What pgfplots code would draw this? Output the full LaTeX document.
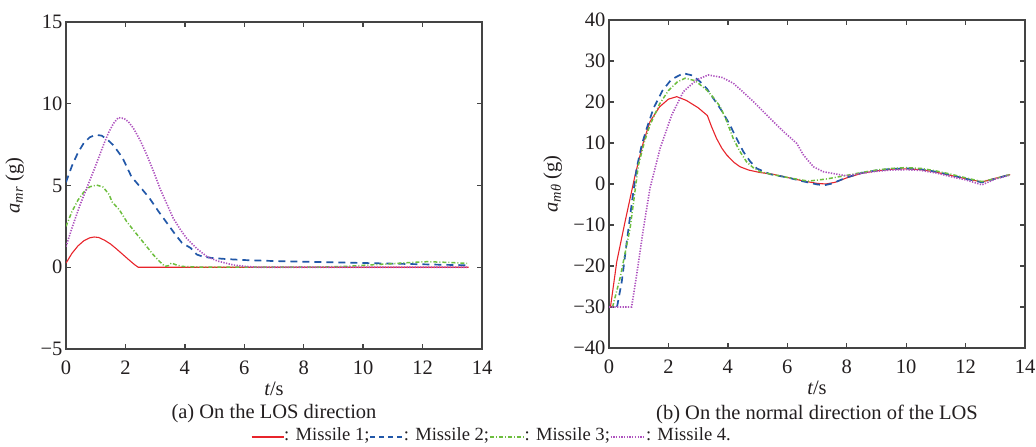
\documentclass[border=0pt]{standalone}
\usepackage{pgfplots}
\pgfplotsset{compat=1.18}
\usepackage{fontspec}
\setmainfont{Liberation Serif}
\definecolor{m1red}{HTML}{E8242B}
\definecolor{m2blue}{HTML}{2157A8}
\definecolor{m3green}{HTML}{6DBE3E}
\definecolor{m4purple}{HTML}{AE52BE}
\definecolor{axgray}{HTML}{444444}
\definecolor{txt}{HTML}{231F20}

\tikzset{
  m1/.style={m1red, line width=1.1pt},
  m2/.style={m2blue, line width=1.7pt, dash pattern=on 7pt off 5pt},
  m3/.style={m3green, line width=1.5pt, dash pattern=on 4pt off 2pt on 1pt off 2pt},
  m4/.style={m4purple, line width=1.6pt, dash pattern=on 1.3pt off 1.4pt},
}
\pgfplotsset{
  panel/.style={
    scale only axis,
    width=416pt, height=327pt,
    anchor=south west,
    xmin=0, xmax=14, xtick={0,2,...,14},
    xticklabels={\textrm{0},\textrm{2},\textrm{4},\textrm{6},\textrm{8},\textrm{10},\textrm{12},\textrm{14}},
    xtick pos=both, ytick pos=both,
    tick align=inside,
    major tick length=5pt,
    axis line style={draw=axgray, line width=1.3pt},
    every tick/.style={draw=axgray, line width=1.3pt},
    tick label style={font=\fontsize{20.5}{21}\selectfont, text=txt},
    xticklabel style={yshift=-8pt},
    label style={font=\fontsize{20.5}{21}\selectfont, text=txt},
    /pgf/number format/assume math mode=true,
    xlabel={\itshape t\upshape/s},
    xlabel style={at={(axis description cs:0.5,0)}, anchor=center, yshift=-40pt},
  },
}

\begin{document}
\begin{tikzpicture}[x=1pt,y=1pt]
\useasboundingbox (0,0) rectangle (1036,447);

% (a) along the LOS
\begin{axis}[panel, at={(66pt,98pt)},
  ymin=-5, ymax=15, ytick={-5,0,5,10,15},
  yticklabels={\textrm{−5},\textrm{0},\textrm{5},\textrm{10},\textrm{15}},
  ylabel={{\itshape a}\textsubscript{\itshape mr} (g)},
  ylabel style={at={(axis description cs:-0.123,0.5)}, anchor=center}]
\addplot[m1] coordinates {(0,0.25) (0.2,0.85) (0.4,1.3) (0.6,1.62) (0.8,1.8) (0.95,1.85) (1.1,1.82) (1.3,1.65) (1.5,1.42) (1.7,1.12) (1.9,0.8) (2.1,0.48) (2.3,0.17) (2.43,0) (13.55,0)};
\addplot[m2] coordinates {(0,5.2) (0.2,6.2) (0.4,7.0) (0.6,7.6) (0.8,7.95) (1.0,8.1) (1.2,8.05) (1.4,7.8) (1.6,7.45) (1.9,6.7) (2.2,5.55) (2.5,4.9) (2.8,4.25) (3.1,3.45) (3.4,2.7) (3.7,1.95) (3.9,1.5) (4.2,1.17) (4.4,0.78) (4.6,0.65) (4.9,0.57) (5.4,0.5) (6.0,0.44) (7.0,0.38) (8.0,0.34) (9.0,0.3) (10.0,0.26) (11.0,0.22) (12.0,0.18) (13.0,0.14) (13.55,0.12)};
\addplot[m3] coordinates {(0,2.5) (0.2,3.4) (0.4,4.1) (0.6,4.6) (0.8,4.92) (1.03,5.03) (1.25,4.9) (1.45,4.45) (1.55,4.0) (1.8,3.5) (2.04,2.8) (2.3,2.2) (2.49,1.78) (2.7,1.3) (2.94,0.76) (3.15,0.35) (3.33,0.05) (3.45,0.1) (3.55,0.26) (3.7,0.15) (3.9,0.05) (4.5,0.01) (8.5,0.01) (9.5,0.06) (10.3,0.15) (11.0,0.22) (11.6,0.29) (12.15,0.34) (12.8,0.3) (13.5,0.24)};
\addplot[m4] coordinates {(0,1.26) (0.2,2.4) (0.47,3.8) (0.7,4.85) (0.92,5.85) (1.1,6.7) (1.26,7.48) (1.45,8.3) (1.6,8.8) (1.76,9.15) (1.95,9.1) (2.1,8.9) (2.27,8.5) (2.5,7.75) (2.72,6.87) (2.95,5.85) (3.16,4.83) (3.4,3.85) (3.61,2.99) (3.85,2.3) (4.06,1.77) (4.4,1.15) (4.74,0.65) (5.1,0.38) (5.63,0.14) (6.0,0.06) (6.42,0) (13.55,0)};
\end{axis}

% (b) normal to the LOS
\begin{axis}[panel, at={(609pt,99pt)}, height=328pt,
  ymin=-40, ymax=40, ytick={-40,-30,...,40},
  yticklabels={\textrm{−40},\textrm{−30},\textrm{−20},\textrm{−10},\textrm{0},\textrm{10},\textrm{20},\textrm{30},\textrm{40}},
  ylabel={{\itshape a}\textsubscript{\itshape mθ} (g)},
  ylabel style={at={(axis description cs:-0.135,0.5)}, anchor=center}]
\addplot[m1] coordinates {(0.05,-30) (0.26,-19) (0.54,-9.2) (0.88,2.2) (1.16,10.3) (1.38,15.2) (1.7,18.8) (2.0,20.7) (2.28,21.3) (2.6,20.4) (3.0,18.6) (3.31,16.7) (3.45,14.0) (3.62,11.1) (3.8,8.7) (3.96,7.1) (4.2,5.3) (4.41,4.2) (4.7,3.4) (5.08,2.8) (5.5,2.4) (6.0,1.6) (6.5,0.8) (7.0,0.15) (7.3,0.0) (7.6,0.4) (8.0,1.5) (8.5,2.6) (9.0,3.2) (9.5,3.6) (10.0,3.7) (10.5,3.5) (11.0,2.9) (11.5,2.1) (12.0,1.3) (12.55,0.5) (13.0,1.4) (13.5,2.3)};
\addplot[m2] coordinates {(0.27,-30) (0.43,-23.8) (0.6,-14) (0.77,-4.5) (0.93,3.8) (1.1,9.5) (1.27,13.6) (1.5,18.5) (1.8,22.8) (2.1,25.5) (2.5,27.0) (2.8,26.5) (3.06,25) (3.3,23.2) (3.51,20.9) (3.8,17.8) (4.07,14.4) (4.3,11) (4.52,7.9) (4.75,5.5) (4.97,3.8) (5.42,2.4) (6.0,1.6) (6.5,0.7) (7.0,-0.1) (7.25,-0.3) (7.5,0.1) (8.0,1.6) (8.5,2.7) (9.0,3.3) (9.5,3.7) (10.0,3.8) (10.5,3.6) (11.0,3.0) (11.5,2.2) (12.0,1.3) (12.55,0.4) (13.0,1.3) (13.5,2.3)};
\addplot[m3] coordinates {(0.12,-30) (0.37,-23) (0.71,-10.8) (0.99,4.6) (1.2,10.5) (1.38,14.4) (1.7,19.5) (2.0,22.8) (2.3,24.9) (2.56,25.8) (2.9,25.2) (3.29,22.9) (3.5,21.2) (3.74,18.9) (3.95,15.5) (4.18,11.1) (4.4,8.0) (4.63,5.4) (4.85,4.0) (5.08,3.0) (5.5,2.3) (6.0,1.6) (6.7,0.7) (7.3,1.2) (8.0,2.1) (8.5,2.8) (9.0,3.4) (9.5,3.8) (10.0,4.0) (10.5,3.8) (11.0,3.2) (11.5,2.4) (12.0,1.5) (12.55,0.6) (13.0,1.3) (13.5,2.3)};
\addplot[m4] coordinates {(0,-30) (0.76,-30) (0.93,-22.2) (1.16,-10.8) (1.38,-1.0) (1.72,8.7) (2.11,16.8) (2.5,22.5) (2.95,25.4) (3.34,26.6) (3.8,26.0) (4.18,24.6) (4.5,22.5) (4.86,20.1) (5.2,17.6) (5.53,15.2) (5.9,12.6) (6.32,9.9) (6.54,7.1) (6.88,4.2) (7.21,3.0) (7.66,2.4) (8.0,2.0) (8.5,2.6) (9.0,3.1) (9.5,3.4) (10.0,3.5) (10.5,3.3) (11.0,2.7) (11.5,1.8) (12.0,1.0) (12.55,-0.2) (13.0,1.2) (13.5,2.2)};
\end{axis}

\node[font=\fontsize{20.5}{21}\selectfont, text=txt] at (274,33) {(a) On the LOS direction};
\node[font=\fontsize{20.5}{21}\selectfont, text=txt] at (817,33) {(b) On the normal direction of the LOS};

\node[font=\fontsize{18.6}{20}\selectfont, text=txt, inner sep=0pt] at (491,12) {%
  \tikz[baseline=-0.35ex]\draw[m1] (0,0)--(32pt,0);: Missile 1;%
  \tikz[baseline=-0.35ex]\draw[m2, line width=1.4pt, dash pattern=on 5pt off 4pt] (0,0)--(33pt,0);: Missile 2;%
  \tikz[baseline=-0.35ex]\draw[m3] (0,0)--(34pt,0);: Missile 3;%
  \tikz[baseline=-0.35ex]\draw[m4, line width=1.2pt] (0,0)--(35pt,0);: Missile 4.};
\end{tikzpicture}
\end{document}
